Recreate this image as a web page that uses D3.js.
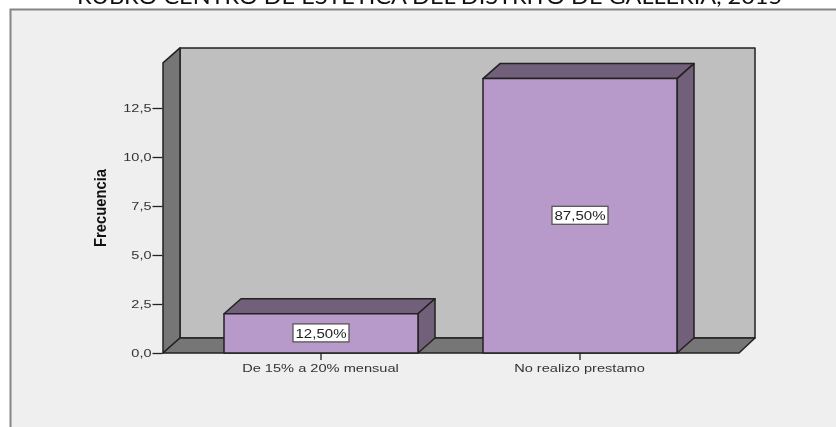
<!DOCTYPE html>
<html><head><meta charset="utf-8">
<script src="https://cdn.jsdelivr.net/npm/d3@7"></script>
<style>html,body{margin:0;padding:0;background:#fff;overflow:hidden}svg{display:block;filter:blur(0.4px)}</style>
</head><body><svg id="c" width="836" height="427"></svg>
<script>
const categories = ["De 15% a 20% mensual", "No realizo prestamo"];
const frequencies = [2, 14];
const percentLabels = ["12,50%", "87,50%"];
const yTicks = [0, 2.5, 5, 7.5, 10, 12.5];
const yTitle = "Frecuencia";
const chartTitle = "RUBRO CENTRO DE ESTETICA DEL DISTRITO DE GALLERIA, 2015";

const svg = d3.select("#c");
const y = d3.scaleLinear().domain([0, 12.5]).range([353, 108]);
const barX = d3.scaleOrdinal().domain(categories).range([224, 483]);
const barW = 194;
const dx = 17, dy = 15;
const ink = "#222";
const sansFont = "'Liberation Sans', Arial, sans-serif";
const fmt = d => d3.format(".1f")(d).replace(".", ",");
const line = d3.line();
const stretch = (sel, k) => sel.each(function(){
  const t = d3.select(this);
  t.attr("textLength", this.getComputedTextLength()*k).attr("lengthAdjust","spacingAndGlyphs");
});

// panel
svg.append("rect").attr("x",10.5).attr("y",9.5).attr("width",840).attr("height",430)
  .attr("fill","#efefef").attr("stroke","#858585").attr("stroke-width",2);

// title
svg.append("text").attr("x",429.5).attr("y",3.5).attr("text-anchor","middle")
  .attr("font-family","Lato, 'Open Sans', sans-serif").attr("font-size",22).attr("fill","#111")
  .attr("textLength",705).attr("lengthAdjust","spacingAndGlyphs").text(chartTitle);

const y0 = y(0), yTop = y(14.8);
const xL = 163, xR = 739;
const poly = (pts, fill, sw=1.5) => svg.append("path").attr("d", line(pts)+"Z")
  .attr("fill",fill).attr("stroke",ink).attr("stroke-width",sw).attr("stroke-linejoin","round");

// back wall
poly([[xL+dx,yTop-dy],[xR+dx-1,yTop-dy],[xR+dx-1,y0-dy],[xL+dx,y0-dy]], "#bfbfbf");
// left wall
poly([[xL,yTop],[xL+dx,yTop-dy],[xL+dx,y0-dy],[xL,y0]], "#767676");
// floor
poly([[xL,y0],[xL+dx,y0-dy],[xR+dx-1,y0-dy],[xR,y0]], "#767676");

// y axis
const gy = svg.append("g").attr("transform",`translate(${xL-0.5},0)`)
  .call(d3.axisLeft(y).tickValues(yTicks).tickFormat(fmt).tickSize(10).tickPadding(1));
gy.select(".domain").remove();
gy.selectAll("line").attr("stroke",ink).attr("stroke-width",1.3);
gy.selectAll("text").attr("font-family",sansFont).attr("font-size",11.5).attr("fill","#333").attr("dy","0.32em").call(stretch,1.26);

// x axis ticks + labels
categories.forEach((c) => {
  const cx = barX(c) + barW/2;
  svg.append("line").attr("x1",cx).attr("x2",cx).attr("y1",y0).attr("y2",y0+7).attr("stroke",ink).attr("stroke-width",1.3);
  svg.append("text").attr("x",cx-0.5).attr("y",y0+19).attr("text-anchor","middle")
    .attr("font-family",sansFont).attr("font-size",11.5).attr("fill","#333").text(c).call(stretch,1.27);
});

// bars
categories.forEach((c,i) => {
  const x0 = barX(c), x1 = x0 + barW, t = y(frequencies[i]);
  poly([[x0,t],[x0+dx,t-dy],[x1+dx,t-dy],[x1,t]], "#725f7a");
  poly([[x1,t],[x1+dx,t-dy],[x1+dx,y0-dy],[x1,y0]], "#725f7a");
  poly([[x0,t],[x1,t],[x1,y0],[x0,y0]], "#b89aca");
  const cy = (t + y0)/2, cx = (x0+x1)/2;
  svg.append("rect").attr("x",cx-28).attr("y",cy-9.5).attr("width",56).attr("height",18)
    .attr("fill","#fff").attr("stroke","#555").attr("stroke-width",1.3);
  svg.append("text").attr("x",cx).attr("y",cy+4.3).attr("text-anchor","middle")
    .attr("font-family",sansFont).attr("font-size",12).attr("fill","#222")
    .attr("textLength",51).attr("lengthAdjust","spacingAndGlyphs").text(percentLabels[i]);
});

// y title
svg.append("text").attr("transform","translate(106,208) rotate(-90)").attr("text-anchor","middle")
  .attr("font-family",sansFont).attr("font-weight","bold").attr("font-size",16)
  .attr("textLength",78).attr("lengthAdjust","spacingAndGlyphs").attr("fill","#111").text(yTitle);
</script></body></html>
